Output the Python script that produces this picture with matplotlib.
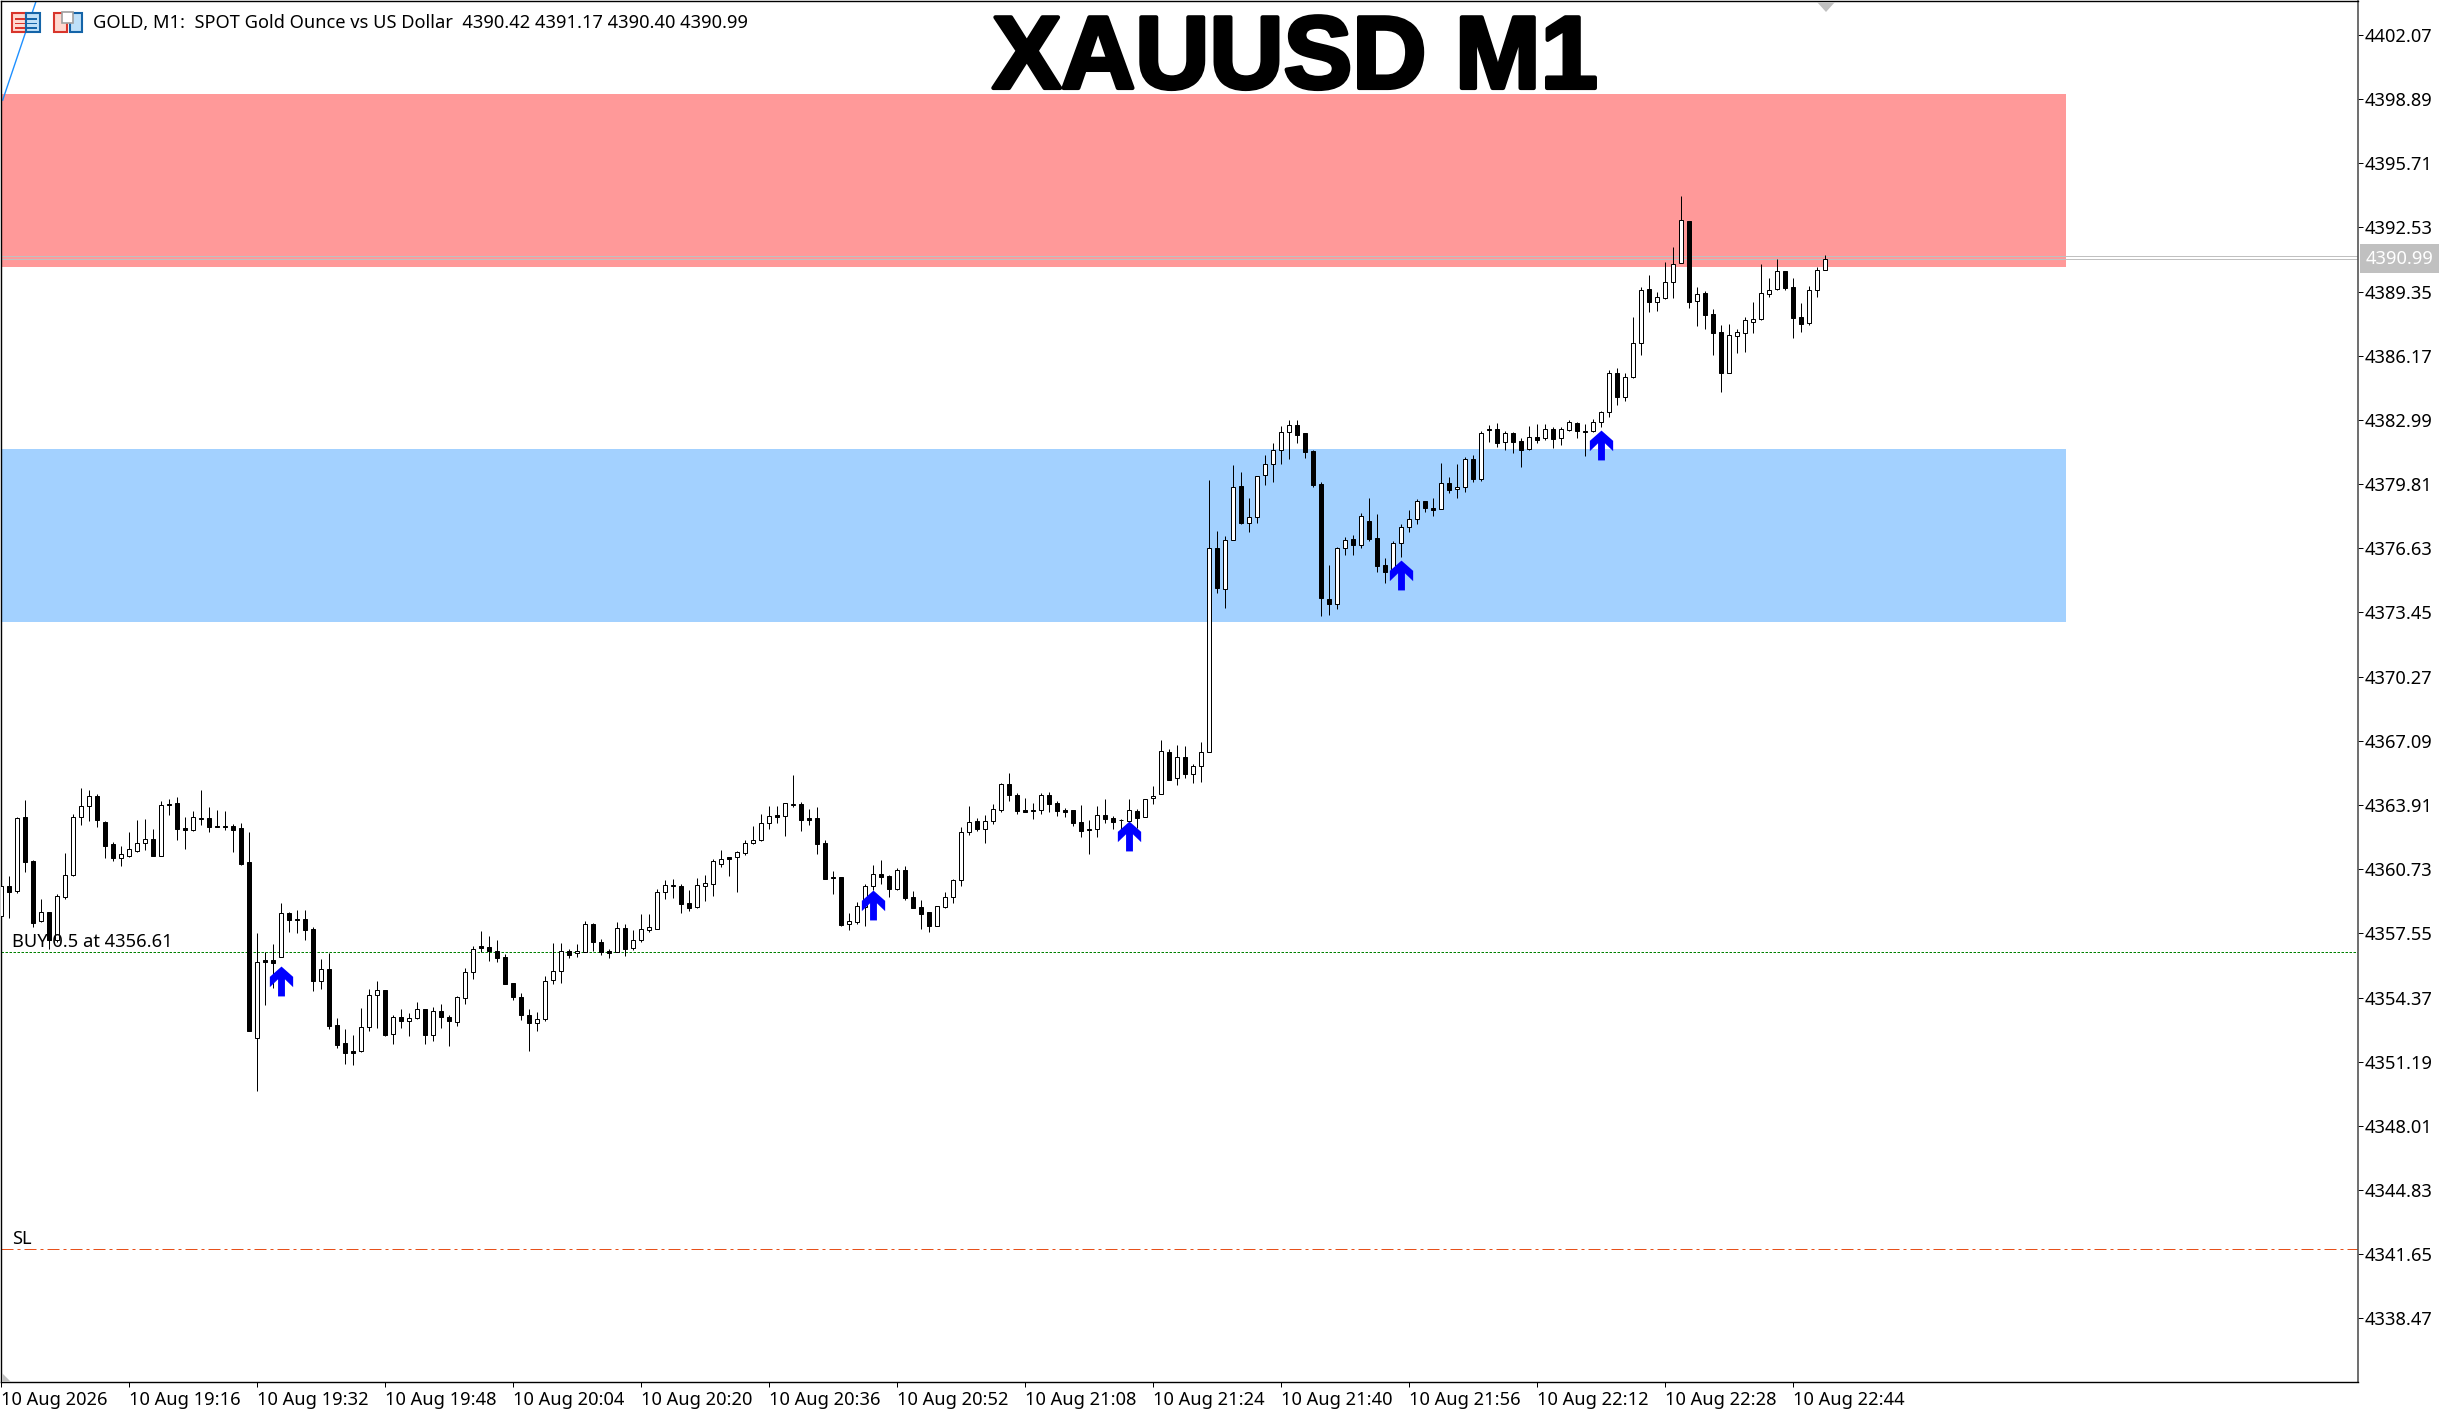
import numpy as np
import matplotlib
matplotlib.use("Agg")
import matplotlib.pyplot as plt
import matplotlib.patheffects as pe
from matplotlib.patches import Rectangle, Polygon
from matplotlib.path import Path

W, H = 2452, 1413

#All candle prices are offsets from 4300
PRICE_BASE = 4300

opens = [58.42,59.89,59.66,63.30,61.13,58.18,58.59,57.22,59.37,60.42,
63.30,63.84,64.34,63.07,61.98,61.30,61.40,61.65,62.01,62.22,
61.40,63.96,64.01,62.75,62.69,63.21,63.26,62.85,62.87,62.87,
62.77,61.07,52.39,56.21,56.23,56.36,58.56,58.24,58.24,57.76,
55.20,55.76,53.01,52.11,51.70,51.73,52.89,54.48,54.74,52.54,
53.40,53.22,53.34,53.78,52.53,53.70,53.43,53.17,54.36,55.62,
56.90,56.85,56.66,56.36,55.07,54.39,53.53,53.12,53.32,55.22,
55.67,56.66,56.56,56.64,58.01,57.10,56.66,56.61,57.81,56.84,
57.20,57.73,57.78,59.58,59.89,59.89,59.05,58.84,59.91,60.01,
60.97,61.31,61.31,61.55,62.01,62.19,63.00,63.40,63.38,63.91,
63.94,63.25,63.26,62.03,60.32,60.36,
57.99,58.13,58.87,59.91,60.47,60.39,59.74,60.69,59.33,58.84,
58.60,57.93,58.87,59.33,60.21,62.55,63.10,62.73,63.10,63.68,
64.93,64.39,63.66,63.64,63.64,64.39,63.99,63.64,63.64,63.05,
62.70,62.70,63.44,63.26,63.18,63.13,63.59,63.33,64.24,64.44,
66.55,65.23,66.27,65.43,65.82,66.52,76.63,74.63,77.03,79.70,
77.90,78.16,80.28,80.79,81.49,82.38,82.72,82.34,81.45,79.82,
74.12,73.85,76.63,77.07,76.81,77.98,77.14,75.80,75.55,76.88,
77.70,78.07,78.96,78.61,78.56,79.85,79.55,79.65,81.04,80.08,
82.53,82.53,81.88,82.33,81.93,81.57,82.13,82.08,82.53,82.08,
82.48,82.82,82.44,82.42,82.87,83.37,85.30,84.11,85.13,86.82,
89.46,88.85,89.05,89.81,90.78,92.83,88.90,89.26,88.22,87.33,
85.33,87.17,87.31,87.86,87.97,89.25,89.46,90.35,89.56,88.07,
87.81,89.41,90.42]

highs = [59.94,60.39,63.30,64.16,61.18,59.25,58.59,59.50,61.55,63.46,
64.75,64.65,64.45,63.12,62.07,61.88,62.55,63.17,63.21,62.72,
64.11,64.21,64.31,63.30,63.63,64.65,63.79,63.66,63.61,62.97,
63.02,62.57,57.58,56.62,57.02,59.05,58.61,58.70,58.70,57.85,
56.28,56.59,53.35,52.81,52.51,53.85,54.79,55.19,54.74,53.50,
53.80,53.62,54.15,53.78,53.90,54.05,53.50,54.44,55.81,56.92,
57.66,57.42,57.22,56.52,55.07,54.59,53.80,53.65,55.42,57.07,
57.07,56.76,57.02,58.14,58.06,57.25,56.76,58.11,58.01,57.71,
58.51,58.51,59.75,60.19,60.24,59.99,59.70,60.29,60.44,61.23,
61.68,61.33,61.63,62.17,62.87,63.46,63.86,63.86,63.99,65.40,
64.06,63.71,63.81,62.17,60.64,60.36,
58.54,59.08,59.99,60.93,61.21,60.44,60.77,60.88,59.65,59.18,
58.60,58.93,59.58,60.24,62.82,63.86,63.25,63.41,63.96,65.00,
65.49,64.50,64.24,63.99,64.49,64.55,64.11,63.76,63.66,63.91,
63.16,63.86,64.19,63.35,63.20,64.19,63.71,64.22,64.85,67.13,
66.67,66.88,66.83,65.94,67.01,80.02,77.49,77.24,80.76,80.41,
79.12,80.20,81.25,81.85,82.67,82.99,82.99,82.34,81.50,79.92,
75.80,76.68,77.19,77.29,78.36,79.12,78.33,76.15,76.98,77.83,
78.53,79.06,78.97,79.12,80.86,80.16,80.81,81.14,81.24,82.43,
82.74,82.84,82.43,82.38,82.10,82.69,82.79,82.79,82.64,82.64,
82.99,82.91,82.79,83.04,83.42,85.46,85.55,85.30,88.09,89.56,
90.17,89.33,90.82,91.56,94.09,92.83,89.58,89.36,88.49,87.69,
87.74,87.50,88.09,88.83,90.72,90.02,90.96,90.37,90.02,88.78,
89.63,90.57,91.17]

lows = [58.37,58.32,59.56,60.60,57.88,58.13,56.80,57.14,59.25,60.41,
62.92,63.12,62.82,61.28,61.15,60.89,61.35,61.58,61.69,61.40,
61.40,63.41,62.17,61.73,62.62,62.93,62.57,62.80,62.67,61.58,
60.93,52.72,49.75,54.00,54.82,56.36,57.60,57.56,57.22,54.69,
54.81,52.79,51.88,51.07,51.02,51.68,52.72,52.86,52.48,52.06,
52.86,52.46,53.32,52.06,52.21,52.86,51.96,52.96,54.05,55.29,
56.61,56.19,56.13,55.05,54.24,53.25,51.73,52.71,53.20,55.04,
55.09,56.34,56.38,56.61,56.66,56.47,56.33,56.61,56.43,56.72,
57.12,57.61,57.78,59.25,59.30,58.56,58.66,58.82,59.15,59.40,
60.84,60.39,59.60,61.43,61.99,62.12,62.72,63.02,62.37,63.81,
62.62,62.92,61.48,60.26,59.50,57.91,
57.73,58.03,57.93,59.69,59.99,59.35,59.69,59.20,58.80,57.78,
57.63,57.93,58.80,59.05,59.91,62.44,62.64,62.04,62.98,63.58,
64.11,63.46,63.58,63.21,63.46,63.56,63.36,63.31,62.88,62.34,
61.50,62.34,63.03,62.72,62.34,63.13,62.78,63.30,63.97,64.44,
65.16,64.92,65.25,65.01,65.06,66.52,74.43,73.69,77.03,77.85,
77.45,77.90,79.78,79.93,80.82,81.07,81.87,81.12,79.68,73.29,
73.34,73.64,76.31,76.31,76.66,77.01,75.46,74.93,75.55,76.22,
77.45,77.83,78.45,78.23,78.56,79.39,79.14,79.42,79.92,79.98,
81.90,81.67,81.50,81.35,80.68,81.52,81.87,82.01,81.60,81.77,
82.46,82.11,81.22,82.41,82.66,83.15,83.75,83.94,85.08,86.21,
88.34,88.39,89.00,89.03,90.78,88.55,87.66,87.50,86.21,84.37,
85.33,86.31,86.36,87.30,87.96,89.08,89.45,89.43,87.05,87.35,
87.69,89.08,90.40]

closes = [59.89,59.61,63.26,61.10,58.08,58.59,57.22,59.40,60.42,63.30,
63.84,64.34,63.18,61.89,61.30,61.46,61.73,62.01,62.21,61.40,
63.89,63.89,62.74,62.69,63.30,63.26,62.83,62.80,62.83,62.69,
60.98,52.72,56.11,56.14,56.06,58.54,58.21,58.19,57.71,55.20,
55.76,52.97,52.03,51.63,51.63,52.89,54.48,54.72,52.51,53.39,
53.22,53.34,53.78,52.51,53.68,53.42,53.22,54.38,55.62,56.80,
56.84,56.69,56.34,55.05,54.41,53.52,53.12,53.29,55.17,55.67,
56.66,56.49,56.66,57.99,57.14,56.64,56.59,57.80,56.79,57.20,
57.75,57.85,59.58,59.93,59.94,59.02,58.82,59.93,60.03,61.12,
61.22,61.25,61.56,62.01,62.19,63.00,63.35,63.33,63.99,63.94,
63.18,63.18,61.99,60.26,60.27,57.96,
58.14,58.89,59.89,60.47,60.36,59.76,60.67,59.30,58.82,58.52,
57.93,58.89,59.33,60.17,62.55,63.08,62.73,63.10,63.69,64.93,
64.39,63.63,63.58,63.59,64.39,63.97,63.63,63.58,63.03,62.64,
62.65,63.40,63.23,63.08,63.15,63.64,63.28,64.22,64.37,66.57,
65.16,66.27,65.46,65.82,66.52,76.63,74.68,77.03,79.65,77.90,
78.16,80.20,80.79,81.49,82.38,82.72,82.26,81.42,79.78,74.18,
73.89,76.63,77.03,76.81,78.21,77.11,75.77,75.47,76.88,77.67,
78.07,78.96,78.64,78.54,79.85,79.54,79.65,81.04,80.08,82.33,
82.48,81.87,82.33,81.91,81.52,82.13,82.01,82.53,82.06,82.53,
82.87,82.46,82.41,82.87,83.37,85.30,84.11,85.10,86.79,89.41,
88.85,89.06,89.81,90.70,92.88,88.85,89.21,88.21,87.31,85.33,
87.18,87.33,87.93,87.97,89.26,89.41,90.35,89.54,88.06,87.76,
89.41,90.40,90.99]

#Signal arrows: candle number and price at the middle of the arrow
arrow_idx = [35, 109, 141, 175, 200]
arrow_price = [4355.21, 4358.98, 4362.38, 4375.33, 4381.77]

#Zones, levels
zone_end = 258
red_zone = (4390.57, 4399.14)
blue_zone = (4372.98, 4381.55)
buy_price = 4356.61
sl_price = 4341.90
bid_price = 4390.99
ask_price = 4391.12
trend_x = [0.15, 4.33]
trend_y = [4398.84, 4403.75]

price_ticks = [4402.07, 4398.89, 4395.71, 4392.53, 4389.35, 4386.17, 4382.99,
               4379.81, 4376.63, 4373.45, 4370.27, 4367.09, 4363.91, 4360.73,
               4357.55, 4354.37, 4351.19, 4348.01, 4344.83, 4341.65, 4338.47]
time_labels = ["10 Aug 2026", "10 Aug 19:16", "10 Aug 19:32", "10 Aug 19:48",
               "10 Aug 20:04", "10 Aug 20:20", "10 Aug 20:36", "10 Aug 20:52",
               "10 Aug 21:08", "10 Aug 21:24", "10 Aug 21:40", "10 Aug 21:56",
               "10 Aug 22:12", "10 Aug 22:28", "10 Aug 22:44"]

plt.rcParams['font.family'] = ['Noto Sans', 'DejaVu Sans']
FS = 13.15
PX = 0.72   # one pixel in points at dpi 100

fig = plt.figure(figsize=(W / 100, H / 100), dpi=100, facecolor='white')


def px_rect(x0, y0, x1, y1, **kw):
    #Rectangle given in picture pixels, y going down
    fig.add_artist(Rectangle((x0 / W, 1 - y1 / H), (x1 - x0) / W, (y1 - y0) / H,
                             transform=fig.transFigure, **kw))


def px_poly(points, **kw):
    pts = [(x / W, 1 - y / H) for x, y in points]
    fig.add_artist(Polygon(pts, closed=True, transform=fig.transFigure, **kw))


ax_left, ax_right, ax_top, ax_bottom = 1.5, 2357.5, 1.0, 1382.0
ax = fig.add_axes([ax_left / W, 1 - ax_bottom / H, (ax_right - ax_left) / W, (ax_bottom - ax_top) / H])
ax.set_xlim(0.02, 294.52)
ax.set_ylim(4335.32, 4403.75)

o = np.array(opens) + PRICE_BASE
h = np.array(highs) + PRICE_BASE
l = np.array(lows) + PRICE_BASE
c = np.array(closes) + PRICE_BASE
x = np.arange(len(o))

#Zones
ax.axhspan(red_zone[0], red_zone[1], xmin=0, xmax=zone_end / 294.5, color='#FF9999', lw=0, zorder=1)
ax.axhspan(blue_zone[0], blue_zone[1], xmin=0, xmax=zone_end / 294.5, color='#A3D1FF', lw=0, zorder=1)

#Levels
ax.axhline(bid_price, color='#c0c0c0', lw=PX, zorder=2)
ax.axhline(ask_price, color='#c0c0c0', lw=PX, zorder=2)
ax.axhline(buy_price, color='#008000', lw=PX, ls=(0, (2.5, 1.5)), zorder=2)
ax.axhline(sl_price, color='#E8501A', lw=PX, ls=(0, (12, 4, 3, 4)), zorder=2)
ax.plot(trend_x, trend_y, color='#1E90FF', lw=1.0, zorder=2)

#Candles
ax.vlines(x, l, h, color='black', lw=PX, zorder=3)
colors = ['white' if cc >= oo else 'black' for oo, cc in zip(o, c)]
ax.bar(x, np.abs(c - o), bottom=np.minimum(o, c), width=0.5, color=colors,
       edgecolor='black', linewidth=PX, zorder=4)

#Up arrows
arrow = Path([(0, 1), (0.78, 0.31), (0.78, -0.38), (0.23, 0.15), (0.23, -1),
              (-0.23, -1), (-0.23, 0.15), (-0.78, -0.38), (-0.78, 0.31), (0, 1)], closed=True)
ax.plot(arrow_idx, arrow_price, ls='none', marker=arrow, ms=21.5, color='#0000FF', mew=0, zorder=5)

#Axes look
for side in ['top', 'left', 'bottom']:
    ax.spines[side].set_linewidth(1.0)
    ax.spines[side].set_color('black')
ax.spines['right'].set_linewidth(1.2)
ax.spines['right'].set_color('#555555')

ax.yaxis.tick_right()
ax.set_yticks(price_ticks)
ax.set_yticklabels(["%.2f" % p for p in price_ticks])
ax.tick_params(axis='y', length=3.6, width=PX, pad=1.5, labelsize=FS, colors='black')

ax.set_xticks(np.arange(len(time_labels)) * 16)
ax.set_xticklabels(time_labels, ha='left')
ax.tick_params(axis='x', length=3.6, width=PX, pad=3, labelsize=FS, colors='black')

#Labels on the chart
lab_tr = ax.get_yaxis_transform()
ax.annotate("BUY 0.5 at 4356.61", xy=(0, buy_price), xycoords=lab_tr, xytext=(11, 1),
            textcoords='offset pixels', fontsize=FS, va='bottom', zorder=6)
ax.annotate("SL", xy=(0, sl_price), xycoords=lab_tr, xytext=(11, 1),
            textcoords='offset pixels', fontsize=FS, va='bottom', zorder=6)

#Current price tag
ax.annotate("%.2f" % bid_price, xy=(1, bid_price), xycoords=lab_tr, xytext=(8, 0),
            textcoords='offset pixels', fontsize=FS, color='white', va='center', ha='left',
            annotation_clip=False,
            bbox=dict(boxstyle='square,pad=0.3', facecolor='#c0c0c0', edgecolor='none'), zorder=6)

#Header
fig.text(93 / W, 1 - 23.5 / H, "GOLD, M1:  SPOT Gold Ounce vs US Dollar  4390.42 4391.17 4390.40 4390.99",
         fontsize=FS, va='center', ha='left', color='black')
fig.text(1295 / W, 1 - 88 / H, "XAUUSD M1", family='Liberation Sans', weight='bold',
         fontsize=74, ha='center', va='baseline', color='black',
         path_effects=[pe.withStroke(linewidth=3, foreground='black')])

#Toolbar icons
px_rect(12, 13, 26, 32, facecolor='#FFD9D0', edgecolor='#D8352B', lw=1.5)
px_rect(26, 13, 40, 32, facecolor='#BFE0F8', edgecolor='#1464A8', lw=1.5)
for yy in (18, 22.5, 27):
    px_rect(15, yy, 25, yy + 1.5, facecolor='#D8352B', edgecolor='none')
    px_rect(27, yy, 37, yy + 1.5, facecolor='#1464A8', edgecolor='none')
px_rect(54, 13, 67, 32, facecolor='#FFD9D0', edgecolor='#D8352B', lw=1.5)
px_rect(70, 13, 82, 32, facecolor='#BFE0F8', edgecolor='#1464A8', lw=1.5)
px_rect(62, 12, 73, 23, facecolor='white', edgecolor='#A0A0A0', lw=1.2)

#Small grey triangles of the terminal
px_poly([(1817, 2), (1835, 2), (1826, 12)], facecolor='#c0c0c0', edgecolor='none')
px_poly([(2, 1373), (2, 1382), (11, 1382)], facecolor='#c0c0c0', edgecolor='none')

fig.savefig("out.png", dpi=100, facecolor='white')
